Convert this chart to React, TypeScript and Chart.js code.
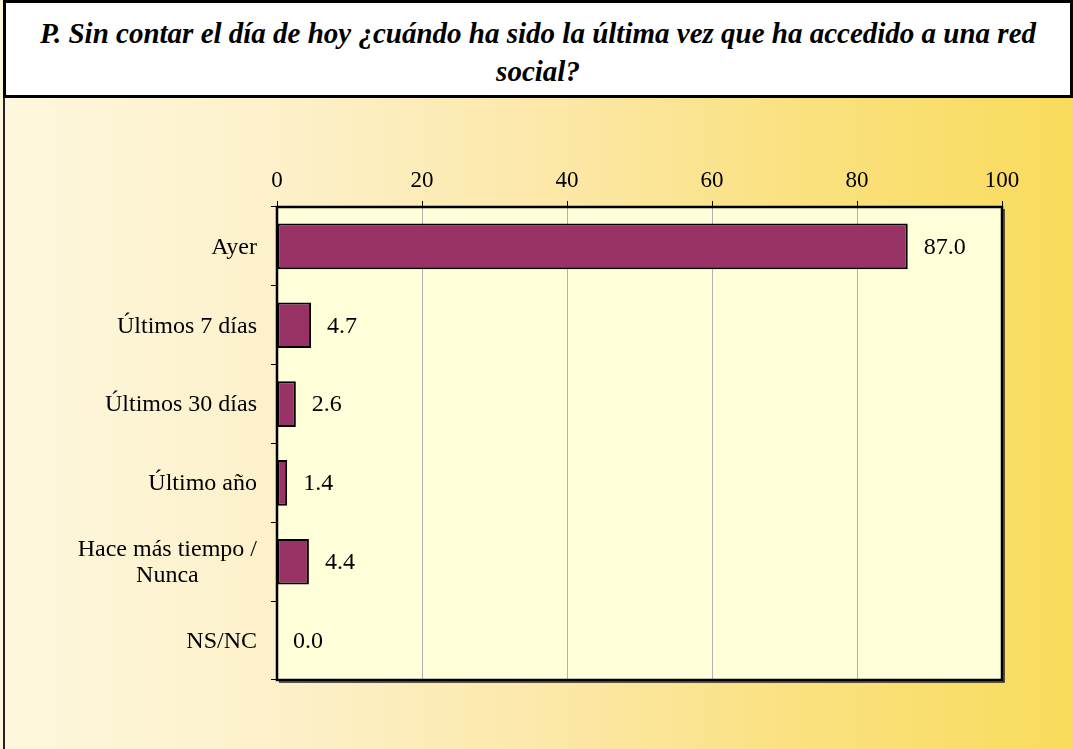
import React, { useEffect, useRef } from "react";
import { Chart, registerables } from "chart.js";

Chart.register(...registerables);

const categories: (string | string[])[] = [
  "Ayer",
  "Últimos 7 días",
  "Últimos 30 días",
  "Último año",
  ["Hace más tiempo /", "Nunca"],
  "NS/NC",
];
const values: number[] = [87.0, 4.7, 2.6, 1.4, 4.4, 0.0];
const xTicks: number[] = [0, 20, 40, 60, 80, 100];
const titleLine1 = "P. Sin contar el día de hoy ¿cuándo ha sido la última vez que ha accedido a una red";
const titleLine2 = "social?";

const SERIF = "'Liberation Serif'";

const plotPlugin = {
  id: "plotDecor",
  beforeDraw(chart: any) {
    const { ctx, chartArea: a } = chart;
    ctx.save();
    ctx.fillStyle = "#FFFFD9";
    ctx.fillRect(a.left, a.top, a.right - a.left, a.bottom - a.top);
    ctx.restore();
  },
  afterDatasetsDraw(chart: any) {
    const { ctx, chartArea: a } = chart;
    ctx.save();
    const meta = chart.getDatasetMeta(0);
    ctx.font = `24px ${SERIF}`;
    ctx.fillStyle = "#000";
    ctx.textAlign = "left";
    ctx.textBaseline = "middle";
    meta.data.forEach((bar: any, i: number) => {
      ctx.fillText(values[i].toFixed(1), bar.x + 16, bar.y + 1);
    });
    const ys = chart.scales.y;
    categories.forEach((lab, i) => {
      const lines = Array.isArray(lab) ? lab : [lab];
      const y = ys.getPixelForTick(i);
      const widest = Math.max(...lines.map((l) => ctx.measureText(l).width));
      const cx = a.left - 20 - widest / 2;
      const lh = 26;
      ctx.textAlign = "center";
      lines.forEach((l, j) => {
        ctx.fillText(l, cx, y + 1 + (j - (lines.length - 1) / 2) * lh);
      });
    });
    ctx.strokeStyle = "#000";
    ctx.lineWidth = 2.5;
    ctx.strokeRect(a.left, a.top, a.right - a.left, a.bottom - a.top);
    ctx.strokeStyle = "#222";
    ctx.lineWidth = 1.5;
    ctx.beginPath();
    ctx.moveTo(a.right + 2, a.top + 2);
    ctx.lineTo(a.right + 2, a.bottom + 2);
    ctx.lineTo(a.left + 2, a.bottom + 2);
    ctx.stroke();
    ctx.restore();
  },
};

function ChartView() {
  const ref = useRef<HTMLCanvasElement | null>(null);
  useEffect(() => {
    let chart: any = null;
    let cancelled = false;
    const build = () => {
      if (cancelled || !ref.current) return;
      chart = new Chart(ref.current, {
        type: "bar",
        data: {
          labels: categories as any,
          datasets: [
            {
              data: values,
              backgroundColor: "#993366",
              borderColor: "#000000",
              borderWidth: 2,
              borderSkipped: false,
              barPercentage: 0.58,
              categoryPercentage: 1,
            },
          ],
        },
        options: {
          indexAxis: "y",
          responsive: false,
          animation: false,
          devicePixelRatio: 1,
          layout: { padding: { left: 7, right: 71, top: 49, bottom: 69 } },
          plugins: {
            legend: { display: false },
            tooltip: { enabled: false },
            title: { display: false },
          },
          scales: {
            x: {
              position: "top",
              min: 0,
              max: 100,
              afterBuildTicks(scale: any) {
                scale.ticks = xTicks.map((v) => ({ value: v }));
              },
              afterFit(scale: any) {
                scale.height = 60;
              },
              border: { display: false },
              grid: {
                color: "#B0B0B0",
                lineWidth: 1,
                borderDash: [3, 3] as any,
                tickColor: "#000",
                tickLength: 6,
                tickBorderDash: [] as any,
              } as any,
              ticks: {
                color: "#000",
                font: { family: SERIF, size: 23 },
                padding: 6,
                maxRotation: 0,
              },
            },
            y: {
              afterFit(scale: any) {
                scale.width = 270;
              },
              border: { display: false },
              grid: {
                drawOnChartArea: false,
                drawTicks: true,
                tickLength: 6,
                tickColor: "#000",
                color: "#000",
              },
              ticks: {
                color: "rgba(0,0,0,0)",
                font: { family: SERIF, size: 24 },
              },
            },
          },
        },
        plugins: [plotPlugin],
      });
    };
    const fonts: any = (document as any).fonts;
    if (fonts && fonts.load) {
      Promise.all([fonts.load(`24px ${SERIF}`), fonts.load(`italic bold 29px ${SERIF}`)])
        .catch(() => null)
        .then(() => build());
    } else {
      build();
    }
    return () => {
      cancelled = true;
      if (chart) chart.destroy();
    };
  }, []);
  return <canvas ref={ref} width={1073} height={651} style={{ display: "block" }} />;
}

export default function App() {
  return (
    <div
      style={{
        position: "fixed",
        left: 0,
        top: 0,
        width: 1073,
        height: 749,
        overflow: "hidden",
        background:
          "linear-gradient(to right, #FEF7DD 0%, #FDF1CB 25%, #FCE8AA 50%, #FAE17F 75%, #F9DB5C 100%)",
      }}
    >
      <div
        style={{
          position: "absolute",
          left: 3,
          top: 0,
          width: 2,
          height: 749,
          background: "#222",
        }}
      />
      <div
        style={{
          position: "absolute",
          left: 3,
          top: 0,
          width: 1070,
          height: 98,
          boxSizing: "border-box",
          border: "3px solid #000",
          background: "#fff",
          fontFamily: "'Liberation Serif', serif",
          fontWeight: "bold",
          fontStyle: "italic",
          fontSize: 29,
          lineHeight: "38px",
          textAlign: "center",
          paddingTop: 11,
          color: "#000",
          whiteSpace: "nowrap",
        }}
      >
        {titleLine1}
        <br />
        {titleLine2}
      </div>
      <div style={{ position: "absolute", left: 0, top: 98 }}>
        <ChartView />
      </div>
    </div>
  );
}
